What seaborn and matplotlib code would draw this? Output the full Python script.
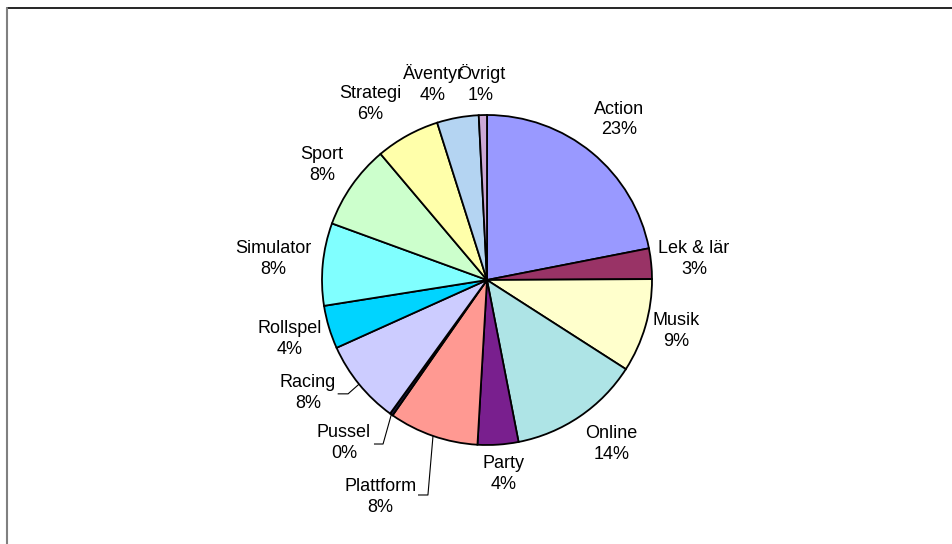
import numpy as np
import matplotlib
matplotlib.use("Agg")
import matplotlib.pyplot as plt
import seaborn as sns
from matplotlib.lines import Line2D

# genre shares, clockwise from 12 o'clock
genres = ["Action", "Lek & lär", "Musik", "Online", "Party", "Plattform", "Pussel",
          "Racing", "Rollspel", "Simulator", "Sport", "Strategi", "Äventyr", "Övrigt"]
shares = [22.0, 3.0, 9.2, 12.9, 4.0, 8.8, 0.3, 8.3, 4.25, 8.1, 8.3, 6.3, 4.1, 0.8]
# percentage labels as printed on the chart
pct_labels = ["23%", "3%", "9%", "14%", "4%", "8%", "0%", "8%", "4%", "8%", "8%", "6%", "4%", "1%"]

colors = ["#9999FF", "#993366", "#FFFFCC", "#AEE4E6", "#791F8E", "#FF9992", "#1A1A40",
          "#CCCCFF", "#00D4FF", "#80FFFF", "#CCFFCC", "#FFFFAA", "#B4D4F2", "#CCA8D6"]

sns.set_theme(style="white")
plt.rcParams["font.family"] = ["Liberation Sans", "DejaVu Sans"]
plt.rcParams["text.color"] = "black"

fig = plt.figure(figsize=(9.53, 5.44), dpi=100)
ax = fig.add_axes([223 / 953, 0, 528 / 953, 528 / 544])

wedges, _ = ax.pie(shares, colors=colors, startangle=90, counterclock=False,
                   wedgeprops=dict(edgecolor="black", linewidth=1.3))
ax.set_xlim(-1.6, 1.6)
ax.set_ylim(-1.6, 1.6)
ax.set_aspect("auto")
ax.axis("off")

# label placement: distance factor and angular nudge (deg) from wedge mid-angle
label_r = [1.26, 1.26, 1.19, 1.25, 1.18, None, None, None, 1.25, 1.30, 1.22, 1.28, 1.23, 1.19]
label_nudge = [0, 0, 1, 3, 1, 0, 0, 0, 0, 0, 0, 4.8, 5.2, 0.3]
# labels pulled away with leader lines: text position, leader start, knee
moved = {
    "Racing": ((-1.085, -0.685), (-0.905, -0.690), (-0.842, -0.690)),
    "Pussel": ((-0.867, -0.988), (-0.685, -0.994), (-0.630, -0.994)),
    "Plattform": ((-0.648, -1.315), (-0.418, -1.303), (-0.358, -1.303)),
}

for w, name, pct, r, nd in zip(wedges, genres, pct_labels, label_r, label_nudge):
    mid = np.deg2rad((w.theta1 + w.theta2) / 2)
    txt = f"{name}\n{pct}"
    if name in moved:
        (tx, ty), (sx, sy), (kx, ky) = moved[name]
        ex, ey = np.cos(mid), np.sin(mid)
        ax.plot([sx, kx, ex], [sy, ky, ey], color="black", lw=0.8, solid_capstyle="butt")
        ax.text(tx, ty, txt, ha="center", va="center", fontsize=13, linespacing=1.3,
                color="black")
    else:
        a = mid + np.deg2rad(nd)
        ax.text(r * np.cos(a), r * np.sin(a), txt, ha="center", va="center",
                fontsize=13, linespacing=1.3, color="black")

# chart area frame (top and left edges visible)
fig.add_artist(Line2D([7 / 953, 1], [1 - 7.5 / 544, 1 - 7.5 / 544],
                      transform=fig.transFigure, color="black", lw=1.2))
fig.add_artist(Line2D([7.5 / 953, 7.5 / 953], [0, 1 - 7.5 / 544],
                      transform=fig.transFigure, color="#808080", lw=1.5))

fig.savefig("out.png", dpi=100)
